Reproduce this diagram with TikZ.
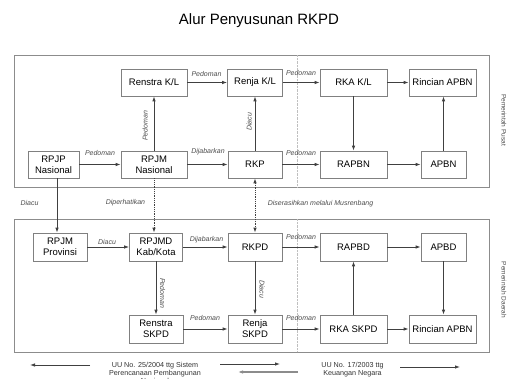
\documentclass[tikz,border=0pt]{standalone}
\usepackage{fontspec}
\setmainfont{Liberation Sans}
\usepackage{xcolor}
\usepackage{tikz}
\usetikzlibrary{calc}
\usetikzlibrary{arrows.meta}
\usetikzlibrary{positioning}

\begin{document}
\begin{tikzpicture}[x=1pt,y=-1pt,
	box/.style={draw=black!50,line width=0.7pt,fill=white,minimum height=27pt,inner sep=1pt,align=center,font=\fontsize{9.5}{11}\selectfont},
	con/.style={-{Latex[length=5pt,width=3.5pt]},line width=0.8pt,draw=black!75},
	lbl/.style={font=\fontsize{7}{8}\selectfont\itshape,text=black!70,inner sep=0pt},
	frame/.style={draw=black!45,line width=0.7pt},
	side/.style={font=\fontsize{6.5}{7}\selectfont,text=black!70,rotate=-90,inner sep=0pt},
	uu/.style={font=\fontsize{7.2}{7.7}\selectfont,text=black!80,align=center,anchor=north,inner sep=0pt}]
	\useasboundingbox (0,0) rectangle (512,379);
	\node[anchor=base] (title) at (259,25) {\fontsize{15}{18}\selectfont Alur Penyusunan RKPD};
	\draw[frame] (14,55) rectangle (489,187);
	\draw[frame] (14,219) rectangle (489,352);
	\draw[black!25,densely dotted] (297,55)--(297,187);
	\draw[black!25,densely dotted] (297,219)--(297,352);
	\node[side] (pusat) at (504,120) {Pemerintah Pusat};
	\node[side] (daerah) at (504,290) {Pemerintah Daerah};

	\node[box,minimum width=66pt] (renstrakl) at (154,82.5) {Renstra K/L};
	\node[box,minimum width=55pt] (renjakl) at (255,82.5) {Renja K/L};
	\node[box,minimum width=67pt] (rkakl) at (353.5,82.5) {RKA K/L};
	\node[box,minimum width=67pt] (rincianpusat) at (442.5,82.5) {Rincian APBN};
	\node[box,minimum width=51pt] (rpjp) at (53.5,164.5) {RPJP\\Nasional};
	\node[box,minimum width=66pt] (rpjmn) at (154,164.5) {RPJM\\Nasional};
	\node[box,minimum width=54pt] (rkp) at (255,164.5) {RKP};
	\node[box,minimum width=67pt] (rapbn) at (353.5,164.5) {RAPBN};
	\node[box,minimum width=45pt] (apbn) at (443.5,164.5) {APBN};

	\node[box,minimum width=54pt,minimum height=28pt] (prov) at (60,247) {RPJM\\Provinsi};
	\node[box,minimum width=53pt,minimum height=28pt] (rpjmd) at (156,247) {RPJMD\\Kab/Kota};
	\node[box,minimum width=54pt,minimum height=28pt] (rkpd) at (255,247) {RKPD};
	\node[box,minimum width=67pt,minimum height=28pt] (rapbd) at (353.5,247) {RAPBD};
	\node[box,minimum width=45pt,minimum height=28pt] (apbd) at (443.5,247) {APBD};
	\node[box,minimum width=54pt,minimum height=28pt] (renstraskpd) at (156,329) {Renstra\\SKPD};
	\node[box,minimum width=54pt,minimum height=28pt] (renjaskpd) at (255,329) {Renja\\SKPD};
	\node[box,minimum width=67pt,minimum height=28pt] (rkaskpd) at (353.5,329) {RKA SKPD};
	\node[box,minimum width=67pt,minimum height=28pt] (rinciandaerah) at (442.5,329) {Rincian APBN};

	\draw[con] (renstrakl) -- (renjakl);
	\draw[con] (renjakl) -- (rkakl);
	\draw[con] (rkakl) -- (rincianpusat);
	\draw[con] (rpjp) -- (rpjmn);
	\draw[con] (rpjmn) -- (renstrakl);
	\draw[con] (rpjmn) -- (rkp);
	\draw[con] (rkp) -- (renjakl);
	\draw[con] (rkp) -- (rapbn);
	\draw[con] (rkakl) -- (rapbn);
	\draw[con] (rapbn) -- (apbn);
	\draw[con] (apbn) -- (apbn |- rincianpusat.south);

	\draw[con] ([xshift=3.5pt]rpjp.south) -- ([xshift=-3pt]prov.north);
	\draw[con,densely dotted] (rpjmn.south) -- (rpjmn.south |- rpjmd.north);
	\draw[con,densely dotted,{Latex[length=5pt,width=3.5pt]}-{Latex[length=5pt,width=3.5pt]}] (rkp) -- (rkpd);

	\draw[con] (prov) -- (rpjmd);
	\draw[con] (rpjmd) -- (rkpd);
	\draw[con] (rkpd) -- (rapbd);
	\draw[con] (rapbd) -- (apbd);
	\draw[con] (rpjmd) -- (renstraskpd);
	\draw[con] (rkpd) -- (renjaskpd);
	\draw[con] (renstraskpd) -- (renjaskpd);
	\draw[con] (renjaskpd) -- (rkaskpd);
	\draw[con] (rkaskpd) -- (rinciandaerah);
	\draw[con] (rkaskpd) -- (rapbd);
	\draw[con] (apbd) -- (apbd |- rinciandaerah.north);

	\node[lbl] (l1) at (206.5,74) {Pedoman};
	\node[lbl] (l2) at (301,73) {Pedoman};
	\node[lbl] (l3) at (100,153) {Pedoman};
	\node[lbl] (l4) at (208,152) {Dijabarkan};
	\node[lbl] (l5) at (301,153) {Pedoman};
	\node[lbl,rotate=90] (l6) at (145,126) {Pedoman};
	\node[lbl,rotate=90] (l7) at (249,122) {Diacu};
	\node[lbl] (l8) at (29.5,203) {Diacu};
	\node[lbl] (l9) at (125.5,203) {Diperhatikan};
	\node[lbl] (l10) at (320.5,204) {Diserasihkan melalui Musrenbang};
	\node[lbl] (l11) at (107,242) {Diacu};
	\node[lbl] (l12) at (206.5,240) {Dijabarkan};
	\node[lbl] (l13) at (301,237) {Pedoman};
	\node[lbl,rotate=-90] (l14) at (162.5,293) {Pedoman};
	\node[lbl,rotate=-90] (l15) at (262,289) {Diacu};
	\node[lbl] (l16) at (205,318) {Pedoman};
	\node[lbl] (l17) at (301,318) {Pedoman};

	\node[uu] (uu25) at (155,362.5) {UU No. 25/2004 ttg Sistem\\Perencanaan Pembangunan\\Nasional};
	\node[uu] (uu17) at (352.5,362.5) {UU No. 17/2003 ttg\\Keuangan Negara};
	\coordinate (a1) at (90,365);
	\coordinate (a2) at (30,365);
	\coordinate (b1) at (220,364);
	\coordinate (b2) at (280,364);
	\coordinate (c1) at (298,372);
	\coordinate (c2) at (238,372);
	\coordinate (d1) at (400,367);
	\coordinate (d2) at (460,367);
	\draw[con] (a1) -- (a2);
	\draw[con] (b1) -- (b2);
	\draw[con,draw=black!45,line width=1.2pt] (c1) -- (c2);
	\draw[con] (d1) -- (d2);
\end{tikzpicture}
\end{document}
